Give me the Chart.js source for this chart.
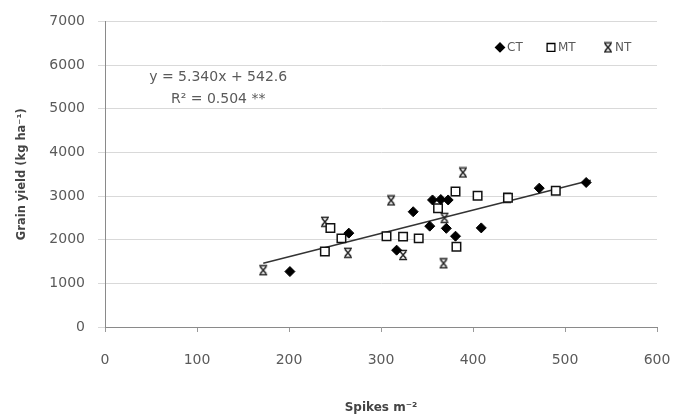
<!DOCTYPE html>
<html>
<head>
<meta charset="utf-8">
<script src="https://cdn.jsdelivr.net/npm/chart.js@4/dist/chart.umd.min.js"></script>
<style>
  html, body { margin: 0; padding: 0; background: #fff; }
  #wrap { width: 677px; height: 419px; position: relative; }
</style>
</head>
<body>
<div id="wrap"><canvas id="c"></canvas></div>
<script>
// ---- data ----
const seriesNames = ["CT", "MT", "NT"];

const ctX = [201, 265, 317, 335, 353, 356, 365, 373, 371, 381, 409, 472, 523];
const ctY = [1270, 2150, 1760, 2640, 2310, 2910, 2920, 2910, 2260, 2080, 2270, 3180, 3310];

const mtX = [239, 245, 257, 306, 324, 341, 362, 381, 382, 405, 438, 490];
const mtY = [1730, 2270, 2030, 2080, 2070, 2030, 2720, 3105, 1840, 3005, 2960, 3120];

const ntX = [172, 239, 264, 311, 324, 369, 368, 389, 437];
const ntY = [1300, 2410, 1700, 2900, 1650, 2500, 1460, 3540, 2960];

const trendX = [172, 528];
const trendY = [1461, 3362];

const equationText = "y = 5.340x + 542.6";
const r2Text = "R\u00B2 = 0.504 **";
const xTitle = "Spikes m\u207B\u00B2";
const yTitle = "Grain yield (kg ha\u207B\u00B9)";
const xTicks = [0, 100, 200, 300, 400, 500, 600];
const yTicks = [0, 1000, 2000, 3000, 4000, 5000, 6000, 7000];

function pts(xs, ys) { return xs.map((x, i) => ({ x: x, y: ys[i] })); }

// custom "x" marker with serifs, like the reference
function makeXMarker() {
  const c = document.createElement('canvas');
  c.width = 12; c.height = 12;
  const g = c.getContext('2d');
  g.strokeStyle = '#222';
  g.lineWidth = 1.5;
  g.beginPath();
  g.moveTo(3, 2.5); g.lineTo(9, 9.5);
  g.moveTo(9, 2.5); g.lineTo(3, 9.5);
  g.moveTo(2, 1.5); g.lineTo(10, 1.5);
  g.moveTo(2, 10.5); g.lineTo(10, 10.5);
  g.stroke();
  return c;
}
const xMarker = makeXMarker();

const FONT = "'DejaVu Sans', sans-serif";
const TXT = '#5a5a5a';

const overlay = {
  id: 'overlay',
  afterDraw(chart) {
    const ctx = chart.ctx;
    const xs = chart.scales.x, ys = chart.scales.y;
    ctx.save();
    // equation
    ctx.fillStyle = TXT;
    ctx.font = "14px " + FONT;
    ctx.textAlign = 'center';
    ctx.textBaseline = 'middle';
    ctx.fillText(equationText, xs.getPixelForValue(123), ys.getPixelForValue(5720));
    ctx.fillText(r2Text, xs.getPixelForValue(123), ys.getPixelForValue(5215));
    // legend
    const ca = chart.chartArea;
    const ly = ca.top + 26;
    ctx.font = "12px " + FONT;
    ctx.textAlign = 'left';
    const items = [
      { style: 'rectRot', r: 4.5, fill: '#000', stroke: '#000', x: 500, label: seriesNames[0] },
      { style: 'rect', r: 5.5, fill: '#fff', stroke: '#000', x: 551, label: seriesNames[1] },
      { style: xMarker, r: 6, fill: '#000', stroke: '#000', x: 608, label: seriesNames[2] }
    ];
    items.forEach(it => {
      ctx.fillStyle = it.fill;
      ctx.strokeStyle = it.stroke;
      ctx.lineWidth = 1.3;
      Chart.helpers.drawPoint(ctx, { pointStyle: it.style, radius: it.r, rotation: 0, borderWidth: 1.3 }, it.x, ly);
      ctx.fillStyle = TXT;
      ctx.fillText(it.label, it.x + 7, ly);
    });
    ctx.restore();
  }
};

new Chart(document.getElementById('c'), {
  type: 'scatter',
  data: {
    datasets: [
      {
        type: 'line',
        label: 'trend',
        data: pts(trendX, trendY),
        borderColor: '#333',
        borderWidth: 1.5,
        pointRadius: 0,
        fill: false,
        order: 5
      },
      {
        label: seriesNames[0],
        data: pts(ctX, ctY),
        pointStyle: 'rectRot',
        pointRadius: 5,
        backgroundColor: '#000',
        borderColor: '#000',
        borderWidth: 1,
        order: 1
      },
      {
        label: seriesNames[1],
        data: pts(mtX, mtY),
        pointStyle: 'rect',
        pointRadius: 6,
        backgroundColor: '#fff',
        borderColor: '#111',
        borderWidth: 1.5,
        order: 2
      },
      {
        label: seriesNames[2],
        data: pts(ntX, ntY),
        pointStyle: xMarker,
        pointRadius: 6,
        backgroundColor: '#000',
        borderColor: '#000',
        order: 3
      }
    ]
  },
  options: {
    responsive: true,
    maintainAspectRatio: false,
    animation: false,
    layout: { padding: { top: 21, right: 20, bottom: 0, left: 0 } },
    plugins: {
      legend: { display: false },
      tooltip: { enabled: false }
    },
    scales: {
      x: {
        type: 'linear',
        min: 0, max: 600,
        afterFit: s => { s.height = 92; s.paddingRight = 0; s.paddingLeft = 0; },
        afterBuildTicks: s => { s.ticks = xTicks.map(v => ({ value: v })); },
        grid: { display: true, drawOnChartArea: false, drawTicks: true, tickLength: 5, color: '#9a9a9a' },
        border: { display: true, color: '#8a8a8a', width: 1 },
        ticks: { color: TXT, font: { family: FONT, size: 14 }, padding: 20, callback: v => String(v) },
        title: {
          display: true, text: xTitle, color: '#444',
          font: { family: FONT, size: 12, weight: 'bold' },
          padding: { top: 0, bottom: 4 }
        }
      },
      y: {
        type: 'linear',
        min: 0, max: 7000,
        afterFit: s => { s.width = 105; },
        afterBuildTicks: s => { s.ticks = yTicks.map(v => ({ value: v })); },
        grid: { display: true, drawOnChartArea: true, drawTicks: true, tickLength: 7, color: '#d9d9d9' },
        border: { display: true, color: '#8a8a8a', width: 1 },
        ticks: { color: TXT, font: { family: FONT, size: 14 }, padding: 13, callback: v => String(v) },
        title: {
          display: true, text: yTitle, color: '#444',
          font: { family: FONT, size: 11.5, weight: 'bold' },
          padding: { top: 15, bottom: 0 }
        }
      }
    }
  },
  plugins: [overlay]
});
</script>
</body>
</html>
